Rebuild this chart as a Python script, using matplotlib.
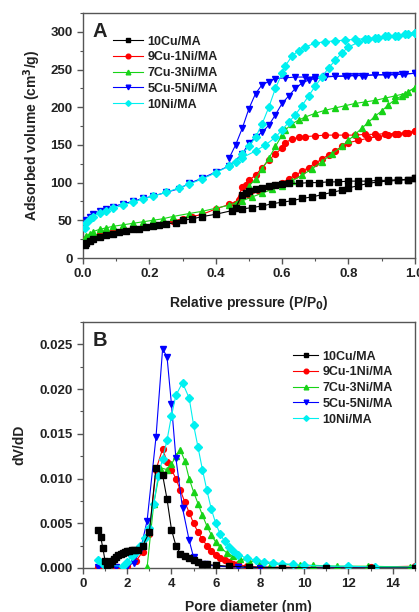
import numpy as np
import matplotlib
matplotlib.use("Agg")
import matplotlib.pyplot as plt
from matplotlib.ticker import MultipleLocator

# sample names and colours
names = ["10Cu/MA", "9Cu-1Ni/MA", "7Cu-3Ni/MA", "5Cu-5Ni/MA", "10Ni/MA"]
colors = ["#000000", "#ff0000", "#17d317", "#0000ff", "#00f0f0"]
markers = ["s", "o", "^", "v", "D"]

# (A) N2 isotherms: adsorption and desorption branches
ads_x = [
    [0.005, 0.01, 0.02, 0.03, 0.05, 0.07, 0.09, 0.11, 0.13, 0.15, 0.17, 0.19, 0.21, 0.23, 0.25, 0.28, 0.30, 0.33, 0.36, 0.40,
     0.45, 0.48, 0.51, 0.54, 0.57, 0.60, 0.63, 0.66, 0.69, 0.72, 0.75, 0.78, 0.80, 0.83, 0.86, 0.89, 0.92, 0.95, 0.98, 1.0],
    [0.005, 0.01, 0.02, 0.03, 0.05, 0.07, 0.09, 0.12, 0.15, 0.18, 0.21, 0.24, 0.27, 0.30, 0.33, 0.36, 0.40, 0.44, 0.47, 0.50,
     0.53, 0.56, 0.58, 0.60, 0.62, 0.64, 0.66, 0.68, 0.70, 0.72, 0.74, 0.76, 0.78, 0.80, 0.83, 0.86, 0.89, 0.92, 0.95, 0.98, 1.0],
    [0.005, 0.01, 0.02, 0.03, 0.05, 0.07, 0.09, 0.12, 0.15, 0.18, 0.21, 0.24, 0.27, 0.32, 0.36, 0.40, 0.44, 0.48, 0.51, 0.54,
     0.57, 0.60, 0.63, 0.66, 0.69, 0.72, 0.75, 0.78, 0.80, 0.82, 0.84, 0.86, 0.88, 0.90, 0.92, 0.94, 0.96, 0.98, 1.0],
    [0.005, 0.01, 0.02, 0.03, 0.05, 0.07, 0.09, 0.12, 0.15, 0.18, 0.21, 0.25, 0.29, 0.32, 0.36, 0.40, 0.44, 0.48, 0.50, 0.52,
     0.54, 0.56, 0.58, 0.60, 0.62, 0.64, 0.66, 0.68, 0.70, 0.73, 0.76, 0.80, 0.84, 0.88, 0.92, 0.96, 1.0],
    [0.005, 0.01, 0.02, 0.03, 0.05, 0.07, 0.09, 0.12, 0.15, 0.18, 0.21, 0.25, 0.29, 0.32, 0.36, 0.40, 0.44, 0.48, 0.52, 0.55,
     0.58, 0.60, 0.62, 0.64, 0.66, 0.68, 0.70, 0.72, 0.74, 0.76, 0.78, 0.80, 0.83, 0.86, 0.89, 0.92, 0.95, 0.98, 1.0],
]
ads_y = [
    [17, 20, 23, 25, 28, 30, 32, 34, 36, 38, 39, 41, 42, 44, 45, 47, 50, 52, 55, 58,
     63, 65, 67, 69, 72, 74, 76, 79, 81, 84, 87, 90, 93, 96, 99, 101, 102, 103, 104, 106],
    [22, 25, 27, 29, 32, 34, 36, 38, 40, 42, 44, 46, 49, 52, 55, 58, 65, 71, 77, 83,
     89, 94, 97, 100, 105, 110, 115, 120, 126, 131, 137, 142, 148, 153, 156, 159, 161, 163, 164, 166, 168],
    [25, 29, 32, 35, 38, 40, 42, 44, 46, 48, 50, 52, 55, 59, 62, 66, 70, 76, 81, 86,
     91, 96, 102, 110, 118, 128, 138, 148, 156, 164, 172, 180, 188, 195, 203, 210, 215, 220, 226],
    [45, 50, 55, 58, 62, 65, 68, 72, 75, 79, 82, 87, 92, 99, 106, 114, 122, 138, 152, 160,
     167, 176, 190, 205, 215, 225, 232, 236, 238, 240, 241, 242, 242, 243, 243, 244, 245],
    [40, 46, 52, 55, 60, 63, 66, 70, 74, 78, 82, 87, 93, 98, 105, 113, 122, 133, 142, 150,
     160, 170, 180, 190, 202, 215, 228, 240, 252, 262, 272, 280, 286, 290, 292, 294, 295, 297, 299],
]
des_x = [
    [1.0, 0.98, 0.95, 0.92, 0.89, 0.86, 0.83, 0.80, 0.77, 0.74, 0.71, 0.68, 0.65, 0.62, 0.60, 0.58, 0.56, 0.54, 0.52, 0.50,
     0.49, 0.48, 0.46],
    [1.0, 0.97, 0.94, 0.91, 0.88, 0.85, 0.82, 0.79, 0.76, 0.73, 0.70, 0.67, 0.65, 0.63, 0.61, 0.60, 0.58, 0.56, 0.54, 0.52,
     0.50, 0.49, 0.48, 0.46],
    [1.0, 0.97, 0.94, 0.91, 0.88, 0.85, 0.82, 0.79, 0.76, 0.73, 0.70, 0.67, 0.65, 0.63, 0.61, 0.60, 0.58, 0.56, 0.54, 0.52,
     0.50, 0.49, 0.48, 0.46],
    [1.0, 0.97, 0.94, 0.91, 0.88, 0.85, 0.82, 0.79, 0.76, 0.73, 0.70, 0.67, 0.64, 0.61, 0.58, 0.56, 0.54, 0.52, 0.50, 0.48,
     0.46, 0.44],
    [1.0, 0.97, 0.94, 0.91, 0.88, 0.85, 0.82, 0.79, 0.76, 0.73, 0.70, 0.67, 0.65, 0.63, 0.61, 0.60, 0.58, 0.56, 0.54, 0.52,
     0.50, 0.48, 0.46, 0.44],
]
des_y = [
    [106, 104, 104, 103, 103, 102, 102, 102, 101, 101, 100, 100, 99, 99, 98, 97, 95, 93, 91, 89,
     86, 84, 67],
    [169, 166, 165, 165, 164, 164, 163, 163, 163, 163, 162, 161, 160, 158, 153, 146, 138, 130, 120, 110,
     103, 97, 94, 72],
    [226, 218, 215, 212, 209, 207, 205, 202, 199, 196, 192, 187, 183, 178, 170, 163, 148, 132, 118, 105,
     95, 88, 82, 72],
    [245, 244, 243, 243, 243, 242, 242, 241, 241, 241, 240, 240, 240, 239, 238, 234, 230, 218, 198, 172,
     150, 132],
    [299, 297, 295, 294, 292, 291, 290, 289, 288, 287, 285, 280, 275, 268, 255, 245, 225, 200, 178, 160,
     148, 138, 128, 122],
]

# (B) pore size distribution
psd_x = [
    [0.7, 0.8, 0.9, 1.0, 1.1, 1.2, 1.3, 1.4, 1.5, 1.6, 1.7, 1.8, 1.9, 2.0, 2.1, 2.2, 2.3, 2.5, 2.7, 3.0,
     3.3, 3.6, 3.8, 4.0, 4.2, 4.4, 4.6, 4.8, 5.0, 5.2, 5.4, 5.6, 6.0, 6.6, 7.5, 9.0, 11.0, 13.0, 15.0],
    [0.7, 1.0, 1.5, 2.0, 2.4, 2.7, 3.0, 3.3, 3.6, 3.8, 4.0, 4.2, 4.4, 4.6, 4.8, 5.0, 5.2, 5.4, 5.6, 5.8,
     6.0, 6.2, 6.4, 6.6, 6.8, 7.0, 7.4, 8.0, 9.0, 11.0, 13.0, 15.0],
    [2.9, 3.2, 3.5, 3.8, 4.0, 4.2, 4.4, 4.6, 4.8, 5.0, 5.2, 5.4, 5.6, 5.8, 6.0, 6.2, 6.5, 6.8, 7.1, 7.5,
     8.0, 8.5, 9.0, 9.8, 10.4, 11.5, 12.9, 14.8],
    [0.7, 1.0, 1.5, 2.0, 2.3, 2.6, 2.9, 3.3, 3.6, 3.8, 4.0, 4.2, 4.5, 4.8, 5.0, 5.5, 6.0, 7.0, 8.0, 10.0,
     12.0, 15.0],
    [0.7, 0.9, 1.0, 1.8, 2.0, 2.2, 2.4, 2.6, 2.8, 3.0, 3.2, 3.4, 3.6, 3.8, 4.0, 4.2, 4.5, 4.8, 5.0, 5.2,
     5.4, 5.6, 5.8, 6.0, 6.2, 6.4, 6.6, 6.8, 7.0, 7.4, 7.8, 8.2, 8.6, 9.0, 9.5, 10.0, 11.0, 12.0, 13.2, 15.0],
]
psd_y = [
    [0.0042, 0.0035, 0.0022, 0.0008, 0.0003, 0.0005, 0.0008, 0.0010, 0.0012, 0.0014, 0.0016, 0.0017, 0.0018, 0.0019,
     0.0019, 0.0020, 0.0020, 0.0020, 0.0025, 0.0040, 0.0112, 0.0104, 0.0077, 0.0043, 0.0025, 0.0016, 0.0013, 0.0011,
     0.0009, 0.0007, 0.0005, 0.0004, 0.0003, 0.0002, 0.0001, 0.00005, 0.0, 0.0, 0.0],
    [0.0001, 0.0001, 0.0001, 0.0002, 0.0008, 0.0018, 0.0038, 0.0110, 0.0133, 0.0119, 0.0110, 0.0100, 0.0087, 0.0074,
     0.0062, 0.0050, 0.0040, 0.0032, 0.0025, 0.0019, 0.0015, 0.0011, 0.0009, 0.0007, 0.0005, 0.0004, 0.0002, 0.0001,
     0.0001, 0.0001, 0.0001, 0.0002],
    [0.0001, 0.0072, 0.0112, 0.0110, 0.0116, 0.0125, 0.0132, 0.0120, 0.0100, 0.0085, 0.0072, 0.0059, 0.0047, 0.0037,
     0.0029, 0.0023, 0.0017, 0.0013, 0.0010, 0.0008, 0.0006, 0.0005, 0.0004, 0.0003, 0.0003, 0.0002, 0.0002, 0.0001],
    [0.0001, 0.0001, 0.0001, 0.0002, 0.0006, 0.0020, 0.0053, 0.0146, 0.0245, 0.0236, 0.0183, 0.0123, 0.0067, 0.0031,
     0.0012, 0.0004, 0.0002, 0.0001, 0.00005, 0.0, 0.0, 0.0],
    [0.0009, 0.0005, 0.0003, 0.0002, 0.0007, 0.0013, 0.0018, 0.0025, 0.0033, 0.0045, 0.0072, 0.0103, 0.0122, 0.0143,
     0.0170, 0.0193, 0.0207, 0.0190, 0.0160, 0.0135, 0.0110, 0.0087, 0.0066, 0.0050, 0.0038, 0.0030, 0.0024, 0.0019,
     0.0015, 0.0011, 0.0009, 0.0007, 0.0006, 0.0005, 0.0004, 0.0003, 0.0002, 0.0002, 0.0001, 0.0001],
]

txt = "#222222"
plt.rcParams["font.family"] = ["Liberation Sans", "DejaVu Sans"]
plt.rcParams["font.weight"] = "bold"

fig = plt.figure(figsize=(4.19, 6.12), dpi=100)
axA = fig.add_axes([0.198, 0.5784, 0.792, 0.4004])
axB = fig.add_axes([0.198, 0.0719, 0.792, 0.402])

order = [1, 2, 3, 4, 0]
for i in order:
    z = 3 + (5 if i == 0 else i)
    kw = dict(color=colors[i], marker=markers[i], ms=4.2 if markers[i] != "D" else 3.6,
              lw=0.8, mec=colors[i], zorder=z)
    axA.plot(ads_x[i], ads_y[i], label=names[i], **kw)
    axA.plot(des_x[i], des_y[i], **kw)
    axB.plot(psd_x[i], psd_y[i], label=names[i], **kw)

for ax in (axA, axB):
    for s in ax.spines.values():
        s.set_color("#555555")
        s.set_linewidth(1.0)
    ax.tick_params(which="both", direction="out", top=False, right=False, colors="#555555",
                   labelcolor=txt, labelsize=9.5)
    ax.tick_params(which="major", length=4, width=1)
    ax.tick_params(which="minor", length=2, width=0.8)

axA.set_xlim(0, 1.0)
axA.set_ylim(0, 325)
axA.xaxis.set_minor_locator(MultipleLocator(0.1))
axA.yaxis.set_major_locator(MultipleLocator(50))
axA.yaxis.set_minor_locator(MultipleLocator(25))
axA.set_xticks(np.arange(0, 1.01, 0.2))
axA.set_xticklabels(["0.0", "0.2", "0.4", "0.6", "0.8", "1.0"], fontweight="bold")
for lab in axA.get_yticklabels():
    lab.set_fontweight("bold")
axA.set_xlabel("Relative pressure (P/P$_\\mathbf{0}$)", fontsize=10, fontweight="bold", color=txt, labelpad=10)
axA.set_ylabel("Adsorbed volume (cm$^\\mathbf{3}$/g)", fontsize=10, fontweight="bold", color=txt, labelpad=5)
axA.text(0.028, 0.965, "A", transform=axA.transAxes, fontsize=14.5, fontweight="bold", color=txt, va="top")

axB.set_xlim(0, 15)
axB.set_ylim(0, 0.0275)
axB.xaxis.set_major_locator(MultipleLocator(2))
axB.xaxis.set_minor_locator(MultipleLocator(1))
axB.yaxis.set_minor_locator(MultipleLocator(0.0025))
axB.set_yticks(np.arange(0, 0.026, 0.005))
axB.set_yticklabels(["0.000", "0.005", "0.010", "0.015", "0.020", "0.025"], fontweight="bold")
for lab in axB.get_xticklabels():
    lab.set_fontweight("bold")
axB.set_xlabel("Pore diameter (nm)", fontsize=10, fontweight="bold", color=txt, labelpad=7)
axB.set_ylabel("dV/dD", fontsize=10, fontweight="bold", color=txt, labelpad=9)
axB.text(0.028, 0.965, "B", transform=axB.transAxes, fontsize=14.5, fontweight="bold", color=txt, va="top")

for ax, anchor, hl in ((axA, (0.09, 0.908), 2.4), (axB, (0.633, 0.884), 2.0)):
    h, l = ax.get_legend_handles_labels()
    idx = [l.index(n) for n in names]
    leg = ax.legend([h[k] for k in idx], [l[k] for k in idx], loc="upper left", bbox_to_anchor=anchor,
                    frameon=False, fontsize=9, handlelength=hl, handletextpad=0.35, markerscale=0.8,
                    labelspacing=0.3, borderaxespad=0, borderpad=0)
    for t in leg.get_texts():
        t.set_color(txt)
        t.set_fontweight("bold")

fig.savefig("out.png", dpi=100)
